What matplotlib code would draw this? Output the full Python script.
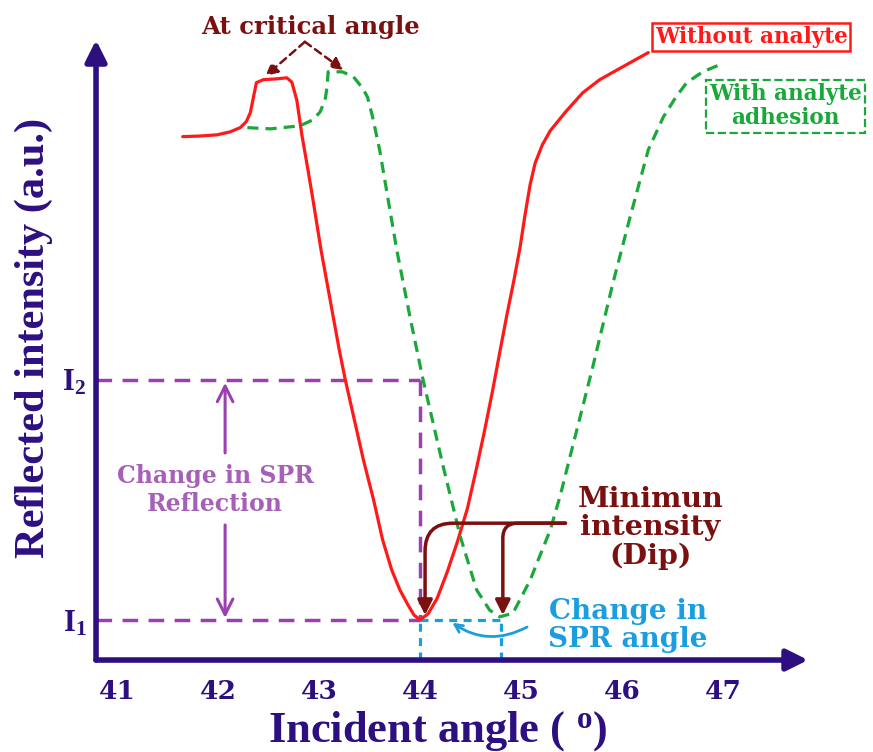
import matplotlib.pyplot as plt

plt.rcParams['font.family'] = ['Liberation Serif', 'DejaVu Serif']
plt.rcParams['font.weight'] = 'bold'
plt.rcParams['mathtext.fontset'] = 'custom'
plt.rcParams['mathtext.rm'] = 'Liberation Serif:bold'
plt.rcParams['mathtext.bf'] = 'Liberation Serif:bold'
plt.rcParams['mathtext.it'] = 'Liberation Serif:bold'

# data (angle in degrees, reflected intensity in a.u.)
ang_red = [41.65, 41.82, 41.99, 42.12, 42.22, 42.28, 42.32, 42.35, 42.38, 42.45, 42.56,
           42.68, 42.73, 42.78, 42.83, 42.89, 42.94, 43.02, 43.11, 43.20, 43.26, 43.35,
           43.44, 43.54, 43.63, 43.72, 43.80, 43.88, 43.94, 44.00, 44.08, 44.17, 44.27,
           44.37, 44.47, 44.56, 44.64, 44.72, 44.79, 44.86, 44.93, 44.99, 45.04, 45.09,
           45.14, 45.21, 45.29, 45.44, 45.61, 45.78, 45.95, 46.11, 46.26]
int_red = [0.872, 0.873, 0.875, 0.880, 0.887, 0.897, 0.912, 0.937, 0.962, 0.967, 0.968,
           0.970, 0.963, 0.933, 0.875, 0.817, 0.767, 0.683, 0.600, 0.517, 0.467, 0.400,
           0.333, 0.267, 0.200, 0.150, 0.117, 0.092, 0.075, 0.067, 0.077, 0.103, 0.147,
           0.197, 0.253, 0.320, 0.383, 0.450, 0.513, 0.575, 0.633, 0.687, 0.742, 0.792,
           0.828, 0.858, 0.882, 0.913, 0.945, 0.967, 0.983, 0.998, 1.012]

ang_green = [42.29, 42.52, 42.81, 42.94, 43.01, 43.06, 43.08, 43.09, 43.23, 43.34, 43.43,
             43.48, 43.53, 43.60, 43.77, 43.90, 44.03, 44.23, 44.40, 44.56, 44.69,
             44.79, 44.92, 45.09, 45.29, 45.39, 45.46, 45.71, 45.91, 46.08, 46.26, 46.41,
             46.53, 46.64, 46.80, 46.97]
int_green = [0.887, 0.885, 0.890, 0.900, 0.913, 0.933, 0.955, 0.980, 0.980, 0.972, 0.953,
             0.938, 0.905, 0.850, 0.683, 0.572, 0.467, 0.322, 0.205, 0.117, 0.083,
             0.072, 0.078, 0.133, 0.217, 0.275, 0.322, 0.488, 0.628, 0.738, 0.850, 0.905,
             0.937, 0.962, 0.980, 0.992]

x_ticks = [41, 42, 43, 44, 45, 46, 47]
I1, I2 = 0.067, 0.467
spr_without, spr_with = 44.0, 44.8

axis_col = '#2d0f80'
red = '#ff1a1a'
green = '#1aa83a'
purple = '#9a40b0'
purple_txt = '#a660b8'
darkred = '#7b1010'
blue = '#1a9ee0'
wide = ['DejaVu Serif']

fig = plt.figure(figsize=(8.73, 7.52), dpi=100)
ax = fig.add_axes([0.11, 0.1223, 0.8156, 0.8245])
ax.set_xlim(40.792, 47.842)
ax.set_ylim(0, 1.033)
for s in ax.spines.values():
    s.set_visible(False)

# axes arrows
ax.annotate('', xy=(47.842, 0), xytext=(40.792, 0), annotation_clip=False,
            arrowprops=dict(arrowstyle='-|>', lw=4, color=axis_col, mutation_scale=32, shrinkA=0, shrinkB=0))
ax.annotate('', xy=(40.792, 1.033), xytext=(40.792, 0), annotation_clip=False,
            arrowprops=dict(arrowstyle='-|>', lw=4, color=axis_col, mutation_scale=32, shrinkA=0, shrinkB=0))

ax.set_xticks(x_ticks)
ax.set_xticklabels([str(t) for t in x_ticks], fontsize=19, color=axis_col, fontweight='bold', family=wide)
ax.set_yticks([I1, I2])
ax.set_yticklabels([r'$\mathbf{I_1}$', r'$\mathbf{I_2}$'], fontsize=22, color=axis_col)
ax.tick_params(axis='x', length=0, pad=14)
ax.tick_params(axis='y', length=0, pad=7)

ax.set_xlabel(r'Incident angle ( $^{\mathbf{o}}$)', fontsize=32, color=axis_col, fontweight='bold')
ax.xaxis.set_label_coords(0.48, -0.132)
ax.xaxis.label.set_va('baseline')
ax.set_ylabel('Reflected intensity (a.u.)', fontsize=30.5, color=axis_col, fontweight='bold')
ax.yaxis.set_label_coords(-0.060, 0.52)

# guide lines
ax.plot([40.792, spr_without], [I2, I2], color=purple, lw=2.5, ls=(0, (4.5, 3)))
ax.plot([spr_without, spr_without], [I2, I1], color=purple, lw=2.5, ls=(0, (4.5, 3)))
ax.plot([40.792, spr_without], [I1, I1], color=purple, lw=2.5, ls=(0, (4.5, 3)))
ax.plot([spr_without, spr_with], [I1, I1], color=blue, lw=2.3, ls=(0, (2.5, 2)))
ax.plot([spr_without, spr_without], [0, I1], color=blue, lw=2.3, ls=(0, (2.5, 2)))
ax.plot([spr_with, spr_with], [0, I1], color=blue, lw=2.3, ls=(0, (2.5, 2)))

# curves
ax.plot(ang_red, int_red, color=red, lw=2.3, solid_capstyle='round', solid_joinstyle='round')
ax.plot(ang_green, int_green, color=green, lw=2.3, ls=(0, (3.5, 2.2)))

# critical angle
ax.text(42.91, 1.055, 'At critical angle', fontsize=17.5, color=darkred, ha='center', va='center',
        clip_on=False, family=wide)
for tip in [(42.47, 0.973), (43.24, 0.983)]:
    ax.annotate('', xy=tip, xytext=(42.86, 1.03), annotation_clip=False,
                arrowprops=dict(arrowstyle='-|>', lw=1.8, ls=(0, (3, 2)), color=darkred,
                                mutation_scale=18, shrinkA=0, shrinkB=0))

# legends as boxes
ax.text(47.28, 1.038, 'Without analyte', fontsize=15.5, color=red, ha='center', va='center', clip_on=False,
        family=wide, bbox=dict(boxstyle='square,pad=0.12', fc='white', ec=red, lw=1.8))
ax.text(47.62, 0.923, 'With analyte\nadhesion', fontsize=15.5, color=green, ha='center', va='center',
        clip_on=False, linespacing=1.15, family=wide,
        bbox=dict(boxstyle='square,pad=0.15', fc='white', ec=green, lw=1.6, ls='--'))

# change in SPR reflection
ax.text(41.97, 0.283, 'Change in SPR\nReflection', fontsize=17, color=purple_txt, ha='center', va='center',
        linespacing=1.2, family=wide)
ax.annotate('', xy=(42.07, 0.462), xytext=(42.07, 0.345),
            arrowprops=dict(arrowstyle='->', lw=2.2, color=purple, mutation_scale=28, shrinkA=0, shrinkB=0))
ax.annotate('', xy=(42.07, 0.07), xytext=(42.07, 0.225),
            arrowprops=dict(arrowstyle='->', lw=2.2, color=purple, mutation_scale=28, shrinkA=0, shrinkB=0))

# minimum intensity
ax.text(46.28, 0.22, 'Minimun\nintensity\n(Dip)', fontsize=20.5, color=darkred, ha='center', va='center',
        linespacing=1.05, family=wide)
ax.annotate('', xy=(spr_without + 0.05, 0.075), xytext=(45.44, 0.228),
            arrowprops=dict(arrowstyle='-|>', lw=2.5, color=darkred, mutation_scale=22, shrinkA=0, shrinkB=0,
                            connectionstyle='angle,angleA=0,angleB=90,rad=28'))
ax.annotate('', xy=(spr_with + 0.02, 0.075), xytext=(45.44, 0.228),
            arrowprops=dict(arrowstyle='-|>', lw=2.5, color=darkred, mutation_scale=22, shrinkA=0, shrinkB=0,
                            connectionstyle='angle,angleA=0,angleB=90,rad=15'))

# change in SPR angle
ax.text(46.06, 0.057, 'Change in\nSPR angle', fontsize=20, color=blue, ha='center', va='center',
        linespacing=1.05, family=wide)
ax.annotate('', xy=(44.32, 0.062), xytext=(45.06, 0.055),
            arrowprops=dict(arrowstyle='->', lw=2, color=blue, mutation_scale=14, shrinkA=0, shrinkB=0,
                            connectionstyle='arc3,rad=-0.3'))

fig.savefig('out.png', dpi=100)
